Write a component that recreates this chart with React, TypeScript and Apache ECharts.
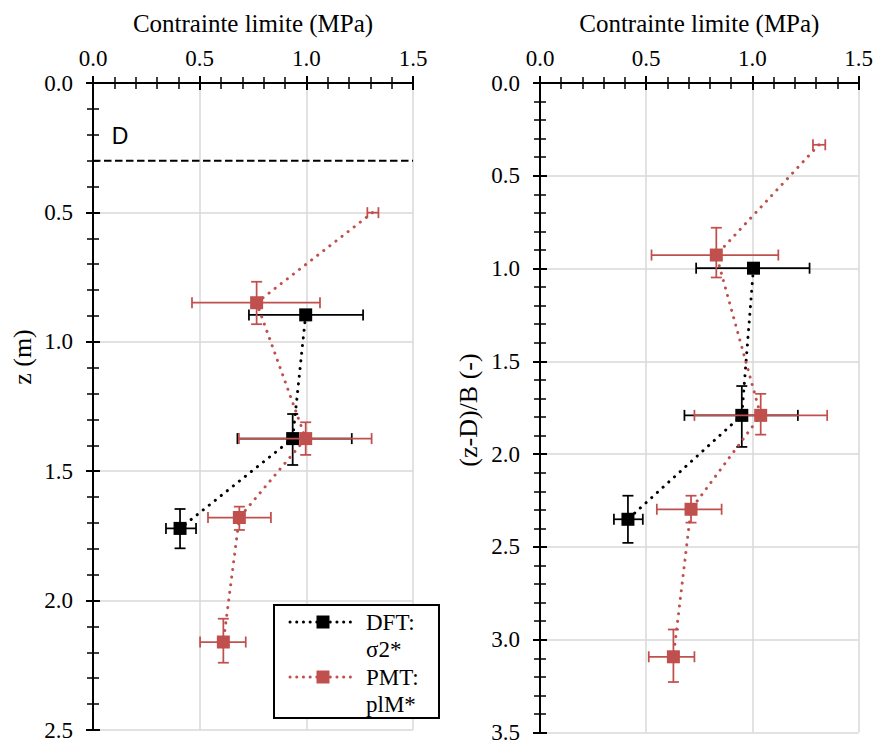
import React, { useEffect, useRef } from 'react';
import * as echarts from 'echarts';

// ---------- DATA ----------
const stressMin = 0;
const stressMax = 1.5;
const stressStep = 0.5;
const leftDepthMax = 2.5;
const rightDepthMax = 3.5;
const depthStep = 0.5;
const depthD = 0.3;

// Left panel: z (m)
const leftDftX = [0.997, 0.936, 0.408];
const leftDftZ = [0.896, 1.374, 1.721];
const leftDftXLo = [0.731, 0.677, 0.342];
const leftDftXHi = [1.266, 1.213, 0.483];
const leftDftZLo = [0.896, 1.279, 1.646];
const leftDftZHi = [0.896, 1.476, 1.798];

const leftPmtX = [1.31, 0.767, 0.997, 0.686, 0.611];
const leftPmtZ = [0.501, 0.849, 1.374, 1.679, 2.16];
const leftPmtXLo = [1.286, 0.464, 0.684, 0.539, 0.502];
const leftPmtXHi = [1.338, 1.064, 1.306, 0.834, 0.716];
const leftPmtZLo = [0.501, 0.768, 1.311, 1.637, 2.07];
const leftPmtZHi = [0.501, 0.932, 1.437, 1.727, 2.24];
const leftPmtMarker = [false, true, true, true, true];

// Right panel: (z-D)/B (-)
const rightDftX = [1.005, 0.95, 0.414];
const rightDftZ = [0.998, 1.791, 2.351];
const rightDftXLo = [0.735, 0.68, 0.348];
const rightDftXHi = [1.269, 1.214, 0.484];
const rightDftZLo = [0.998, 1.633, 2.224];
const rightDftZHi = [0.998, 1.961, 2.478];

const rightPmtX = [1.313, 0.83, 1.039, 0.711, 0.628];
const rightPmtZ = [0.333, 0.927, 1.791, 2.297, 3.092];
const rightPmtXLo = [1.285, 0.525, 0.727, 0.55, 0.512];
const rightPmtXHi = [1.343, 1.122, 1.352, 0.855, 0.727];
const rightPmtZLo = [0.333, 0.78, 1.675, 2.224, 2.945];
const rightPmtZHi = [0.333, 1.048, 1.895, 2.369, 3.228];
const rightPmtMarker = [false, true, true, true, true];

const seriesNames = ['DFT: σ2*', 'PMT: plM*'];

// ---------- STYLE ----------
const serif = 'Liberation Serif';
const sans = 'Liberation Sans';
const BLACK = '#000000';
const RED = '#C0504D';
const GRID = '#D9D9D9';
const dotted = [0.1, 7.6];

function errData(x: number[], z: number[], xl: number[], xh: number[], zl: number[], zh: number[]) {
  return x.map((v, i) => [v, z[i], xl[i], xh[i], zl[i], zh[i]]);
}
function lineData(x: number[], z: number[], marker?: boolean[]) {
  return x.map((v, i) =>
    marker && !marker[i] ? { value: [v, z[i]], symbol: 'none' } : { value: [v, z[i]] }
  );
}

function errorBarRender(color: string) {
  return (params: any, api: any) => {
    const x = api.value(0), y = api.value(1);
    const xl = api.value(2), xh = api.value(3), yl = api.value(4), yh = api.value(5);
    const c = api.coord([x, y]);
    const style = { stroke: color, lineWidth: 1.75, fill: 'none' };
    const cap = 5.5;
    const children: any[] = [];
    if (xh > xl) {
      const a = api.coord([xl, y]);
      const b = api.coord([xh, y]);
      children.push({ type: 'line', shape: { x1: a[0], y1: c[1], x2: b[0], y2: c[1] }, style });
      children.push({ type: 'line', shape: { x1: a[0], y1: c[1] - cap, x2: a[0], y2: c[1] + cap }, style });
      children.push({ type: 'line', shape: { x1: b[0], y1: c[1] - cap, x2: b[0], y2: c[1] + cap }, style });
    }
    if (yh > yl) {
      const a = api.coord([x, yl]);
      const b = api.coord([x, yh]);
      children.push({ type: 'line', shape: { x1: c[0], y1: a[1], x2: c[0], y2: b[1] }, style });
      children.push({ type: 'line', shape: { x1: c[0] - cap, y1: a[1], x2: c[0] + cap, y2: a[1] }, style });
      children.push({ type: 'line', shape: { x1: c[0] - cap, y1: b[1], x2: c[0] + cap, y2: b[1] }, style });
    }
    return { type: 'group', children };
  };
}

function mainX(gridIndex: number) {
  return {
    type: 'value', gridIndex, position: 'top', min: stressMin, max: stressMax, interval: stressStep,
    name: 'Contrainte limite (MPa)', nameLocation: 'middle', nameGap: 47,
    nameTextStyle: { fontFamily: serif, fontSize: 25, color: BLACK },
    axisLine: { show: true, onZero: false, lineStyle: { color: BLACK, width: 2 } },
    axisTick: { show: true, length: 7, lineStyle: { color: BLACK, width: 2 } },
    minorTick: { show: true, splitNumber: 5, length: 6, lineStyle: { color: BLACK, width: 1.5 } },
    axisLabel: { formatter: (v: number) => v.toFixed(1), fontFamily: serif, fontSize: 23, color: BLACK, margin: 13 },
    splitLine: { show: true, lineStyle: { color: GRID, width: 1.5 } },
  };
}
function innerX(gridIndex: number) {
  return {
    type: 'value', gridIndex, position: 'top', min: stressMin, max: stressMax, interval: stressStep,
    axisLine: { show: false, onZero: false },
    axisTick: { show: true, inside: true, length: 7, lineStyle: { color: BLACK, width: 2 } },
    minorTick: { show: true, splitNumber: 5, length: 6, lineStyle: { color: BLACK, width: 1.5 } },
    axisLabel: { show: false },
    splitLine: { show: false },
  };
}
function mainY(gridIndex: number, max: number) {
  return {
    type: 'value', gridIndex, position: 'left', inverse: true, min: 0, max, interval: depthStep,
    axisLine: { show: true, onZero: false, lineStyle: { color: BLACK, width: 2 } },
    axisTick: { show: true, length: 7, lineStyle: { color: BLACK, width: 2 } },
    minorTick: { show: true, splitNumber: 5, length: 6, lineStyle: { color: BLACK, width: 1.5 } },
    axisLabel: { formatter: (v: number) => v.toFixed(1), fontFamily: serif, fontSize: 23, color: BLACK, margin: 20 },
    splitLine: { show: true, lineStyle: { color: GRID, width: 1.5 } },
  };
}
function innerY(gridIndex: number, max: number) {
  return {
    type: 'value', gridIndex, position: 'left', inverse: true, min: 0, max, interval: depthStep,
    axisLine: { show: false, onZero: false },
    axisTick: { show: true, inside: true, length: 7, lineStyle: { color: BLACK, width: 2 } },
    minorTick: { show: true, splitNumber: 5, length: 6, lineStyle: { color: BLACK, width: 1.5 } },
    axisLabel: { show: false },
    splitLine: { show: false },
  };
}

function seriesFor(
  xi: number, yi: number,
  dft: { x: number[]; z: number[]; xl: number[]; xh: number[]; zl: number[]; zh: number[] },
  pmt: { x: number[]; z: number[]; xl: number[]; xh: number[]; zl: number[]; zh: number[]; m: boolean[] }
) {
  return [
    {
      type: 'custom', name: seriesNames[0] + ' err', xAxisIndex: xi, yAxisIndex: yi,
      renderItem: errorBarRender(BLACK), encode: { x: 0, y: 1 }, z: 3,
      data: errData(dft.x, dft.z, dft.xl, dft.xh, dft.zl, dft.zh), silent: true,
    },
    {
      type: 'line', name: seriesNames[0], xAxisIndex: xi, yAxisIndex: yi, z: 4,
      symbol: 'rect', symbolSize: 13, itemStyle: { color: BLACK },
      lineStyle: { color: BLACK, width: 3, type: dotted, cap: 'round' },
      data: lineData(dft.x, dft.z),
    },
    {
      type: 'custom', name: seriesNames[1] + ' err', xAxisIndex: xi, yAxisIndex: yi,
      renderItem: errorBarRender(RED), encode: { x: 0, y: 1 }, z: 5,
      data: errData(pmt.x, pmt.z, pmt.xl, pmt.xh, pmt.zl, pmt.zh), silent: true,
    },
    {
      type: 'line', name: seriesNames[1], xAxisIndex: xi, yAxisIndex: yi, z: 6,
      symbol: 'rect', symbolSize: 13, itemStyle: { color: RED },
      lineStyle: { color: RED, width: 3, type: dotted, cap: 'round' },
      data: lineData(pmt.x, pmt.z, pmt.m),
    },
  ];
}

function txt(text: string, x: number, y: number, size: number, family: string, align: string, rotation = 0, z = 50) {
  return {
    type: 'text', x, y, rotation, z,
    style: {
      text, fontFamily: family, fontSize: size, fill: BLACK,
      align, verticalAlign: 'middle', textAlign: align, textVerticalAlign: 'middle',
    },
  };
}

export default function App() {
  const ref = useRef<HTMLDivElement>(null);
  useEffect(() => {
    if (!ref.current) return;
    const chart = echarts.init(ref.current, null, { renderer: 'svg' });
    const legendZ = 50;
    const option: any = {
      animation: false,
      backgroundColor: '#ffffff',
      textStyle: { fontFamily: serif },
      grid: [
        { left: 93, top: 83, width: 320, height: 647 },
        { left: 540, top: 83, width: 319, height: 652 },
      ],
      xAxis: [mainX(0), innerX(0), mainX(1), innerX(1)],
      yAxis: [mainY(0, leftDepthMax), innerY(0, leftDepthMax), mainY(1, rightDepthMax), innerY(1, rightDepthMax)],
      series: [
        {
          type: 'line', name: 'D', xAxisIndex: 0, yAxisIndex: 0, symbol: 'none', z: 2, silent: true,
          lineStyle: { color: BLACK, width: 2, type: [7.5, 3.5] },
          data: [[stressMin, depthD], [stressMax, depthD]],
        },
        ...seriesFor(0, 0,
          { x: leftDftX, z: leftDftZ, xl: leftDftXLo, xh: leftDftXHi, zl: leftDftZLo, zh: leftDftZHi },
          { x: leftPmtX, z: leftPmtZ, xl: leftPmtXLo, xh: leftPmtXHi, zl: leftPmtZLo, zh: leftPmtZHi, m: leftPmtMarker }),
        ...seriesFor(2, 2,
          { x: rightDftX, z: rightDftZ, xl: rightDftXLo, xh: rightDftXHi, zl: rightDftZLo, zh: rightDftZHi },
          { x: rightPmtX, z: rightPmtZ, xl: rightPmtXLo, xh: rightPmtXHi, zl: rightPmtZLo, zh: rightPmtZHi, m: rightPmtMarker }),
      ],
      graphic: [
        txt('z (m)', 22, 357, 26, serif, 'center', Math.PI / 2),
        txt('(z-D)/B (-)', 468, 410, 26, serif, 'center', Math.PI / 2),
        txt('D', 120, 136, 23, sans, 'center'),
        // legend
        {
          type: 'rect', z: legendZ, shape: { x: 274, y: 605, width: 165, height: 113 },
          style: { fill: '#ffffff', stroke: BLACK, lineWidth: 2 },
        },
        {
          type: 'line', z: legendZ + 1, shape: { x1: 290, y1: 622, x2: 356, y2: 622 },
          style: { stroke: BLACK, lineWidth: 3, lineDash: [0.1, 6.6], lineCap: 'round' },
        },
        {
          type: 'rect', z: legendZ + 2, shape: { x: 316.5, y: 615.5, width: 13, height: 13 },
          style: { fill: BLACK },
        },
        txt('DFT:', 366, 622, 23, serif, 'left', 0, legendZ + 1),
        txt('σ2*', 366, 649, 23, serif, 'left', 0, legendZ + 1),
        {
          type: 'line', z: legendZ + 1, shape: { x1: 290, y1: 677, x2: 356, y2: 677 },
          style: { stroke: RED, lineWidth: 3, lineDash: [0.1, 6.6], lineCap: 'round' },
        },
        {
          type: 'rect', z: legendZ + 2, shape: { x: 316.5, y: 670.5, width: 13, height: 13 },
          style: { fill: RED },
        },
        txt('PMT:', 366, 677, 23, serif, 'left', 0, legendZ + 1),
        txt('plM*', 366, 704, 23, serif, 'left', 0, legendZ + 1),
      ],
    };
    chart.setOption(option);
    return () => chart.dispose();
  }, []);
  return (
    <div
      ref={ref}
      style={{ position: 'fixed', left: 0, top: 0, width: 876, height: 744, background: '#fff' }}
    />
  );
}
